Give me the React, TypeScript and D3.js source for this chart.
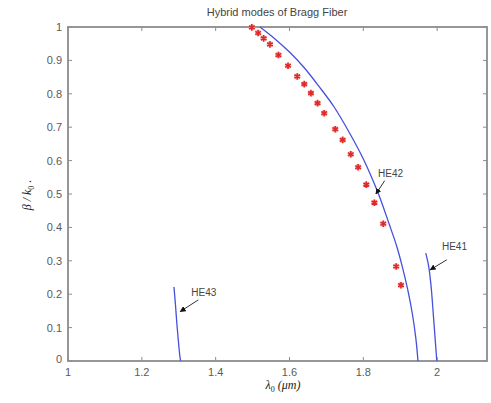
import React from "react";
import * as d3 from "d3";

const W = 491;
const H = 403;

const xTicks = [1, 1.2, 1.4, 1.6, 1.8, 2];
const yTicks = [0, 0.1, 0.2, 0.3, 0.4, 0.5, 0.6, 0.7, 0.8, 0.9, 1];

// HE42 (solid blue line)
const he42X = [1.52, 1.56, 1.6, 1.64, 1.68, 1.72, 1.76, 1.8, 1.84, 1.87, 1.89, 1.905, 1.92, 1.933, 1.942, 1.948];
const he42Y = [1.0, 0.965, 0.925, 0.878, 0.822, 0.762, 0.688, 0.605, 0.503, 0.41, 0.345, 0.285, 0.215, 0.14, 0.07, 0];

// HE41
const he41X = [1.969, 1.976, 1.983, 1.99, 1.997, 1.999];
const he41Y = [0.323, 0.29, 0.23, 0.133, 0.03, 0];

// HE43
const he43X = [1.287, 1.291, 1.295, 1.299, 1.303, 1.305];
const he43Y = [0.222, 0.17, 0.11, 0.06, 0.015, 0];

// red star markers
const starX = [1.498, 1.515, 1.53, 1.547, 1.57, 1.596, 1.621, 1.64, 1.658, 1.676, 1.694, 1.724, 1.744, 1.766, 1.786, 1.808, 1.83, 1.854, 1.889, 1.902];
const starY = [0.999, 0.982, 0.966, 0.948, 0.916, 0.884, 0.852, 0.829, 0.802, 0.772, 0.742, 0.694, 0.662, 0.619, 0.58, 0.528, 0.474, 0.411, 0.283, 0.227];

// annotations: label, text anchor point, arrow tail, arrow tip (data coordinates)
const annLabels = ["HE42", "HE41", "HE43"];
const annText = [[1.84, 0.55], [2.013, 0.333], [1.334, 0.195]];
const annTail = [[1.858, 0.54], [2.026, 0.303], [1.353, 0.183]];
const annTip = [[1.834, 0.5], [1.981, 0.273], [1.304, 0.148]];

const margin = { left: 68, right: 4, top: 27, bottom: 42 };

export default function App() {
  const x = d3.scaleLinear().domain([1, 2.135]).range([margin.left, W - margin.right]);
  const y = d3.scaleLinear().domain([0, 1]).range([H - margin.bottom, margin.top]);
  const line = d3.line<[number, number]>().x((d) => x(d[0])).y((d) => y(d[1])).curve(d3.curveCatmullRom.alpha(0.5));
  const zip = (a: number[], b: number[]) => a.map((v, i) => [v, b[i]] as [number, number]);
  const star = d3.symbol().type(d3.symbolAsterisk).size(30)();
  const x0 = x(1), x1 = x(2.135), y0 = y(0), y1 = y(1);
  const axisCol = "#8c8c8c";
  const labCol = "#5a5a5a";
  const tl = 4;

  return (
    <svg width={W} height={H} style={{ position: "absolute", left: 0, top: 0, background: "#fff" }}>
      <defs>
        <marker id="ah" viewBox="0 0 10 10" refX="9" refY="5" markerWidth="6" markerHeight="6" orient="auto">
          <path d="M0,0 L10,5 L0,10 z" fill="#111" />
        </marker>
      </defs>
      <text x={277} y={16} textAnchor="middle" fontFamily="Liberation Sans, Arial, sans-serif" fontSize={11} fill="#444">
        Hybrid modes of Bragg Fiber
      </text>
      {/* ticks */}
      {xTicks.map((t) => (
        <g key={"x" + t}>
          <line x1={x(t)} x2={x(t)} y1={y0} y2={y0 - tl} stroke={axisCol} />
          <line x1={x(t)} x2={x(t)} y1={y1} y2={y1 + tl} stroke={axisCol} />
          <text x={x(t)} y={y0 + 15} textAnchor="middle" fontFamily="Liberation Sans, Arial, sans-serif" fontSize={11} fill={labCol}>
            {String(t)}
          </text>
        </g>
      ))}
      {yTicks.map((t) => (
        <g key={"y" + t}>
          <line x1={x0} x2={x0 + tl} y1={y(t)} y2={y(t)} stroke={axisCol} />
          <line x1={x1} x2={x1 - tl} y1={y(t)} y2={y(t)} stroke={axisCol} />
          <text x={x0 - 6} y={y(t) + 4 - (t === 0 ? 2 : 0)} textAnchor="end" fontFamily="Liberation Sans, Arial, sans-serif" fontSize={11} fill={labCol}>
            {String(t)}
          </text>
        </g>
      ))}
      <rect x={x0} y={y1} width={x1 - x0} height={y0 - y1} fill="none" stroke={axisCol} strokeWidth={1.8} />
      {/* curves */}
      {[zip(he42X, he42Y), zip(he41X, he41Y), zip(he43X, he43Y)].map((d, i) => (
        <path key={"c" + i} d={line(d) || ""} fill="none" stroke="#4650dc" strokeWidth={1.3} />
      ))}
      {starX.map((sx, i) => (
        <g key={"s" + i} transform={`translate(${x(sx)},${y(starY[i])})`}>
          <circle r={3.2} fill="#f4a0a0" opacity={0.7} />
          <path d={star || ""} fill="none" stroke="#e02828" strokeWidth={1.6} />
        </g>
      ))}
      {/* annotations */}
      {annLabels.map((lab, i) => (
        <g key={lab}>
          <line x1={x(annTail[i][0])} y1={y(annTail[i][1])} x2={x(annTip[i][0])} y2={y(annTip[i][1])} stroke="#333" strokeWidth={1} markerEnd="url(#ah)" />
          <text x={x(annText[i][0])} y={y(annText[i][1])} fontFamily="Liberation Sans, Arial, sans-serif" fontSize={10} fill="#444">
            {lab}
          </text>
        </g>
      ))}
      {/* axis labels */}
      <text x={283} y={389} textAnchor="middle" fontFamily="Liberation Serif, Times New Roman, serif" fontStyle="italic" fontSize={12} fill="#222">
        λ<tspan fontSize={8} dy={3} fontStyle="normal">0</tspan>
        <tspan dy={-3}> (μm)</tspan>
      </text>
      <text transform="translate(31,195) rotate(-90)" textAnchor="middle" fontFamily="Liberation Serif, Times New Roman, serif" fontStyle="italic" fontSize={12} fill="#222">
        β / k<tspan fontSize={8} dy={3} fontStyle="normal">0</tspan>
        <tspan dy={-3}> .</tspan>
      </text>
    </svg>
  );
}
